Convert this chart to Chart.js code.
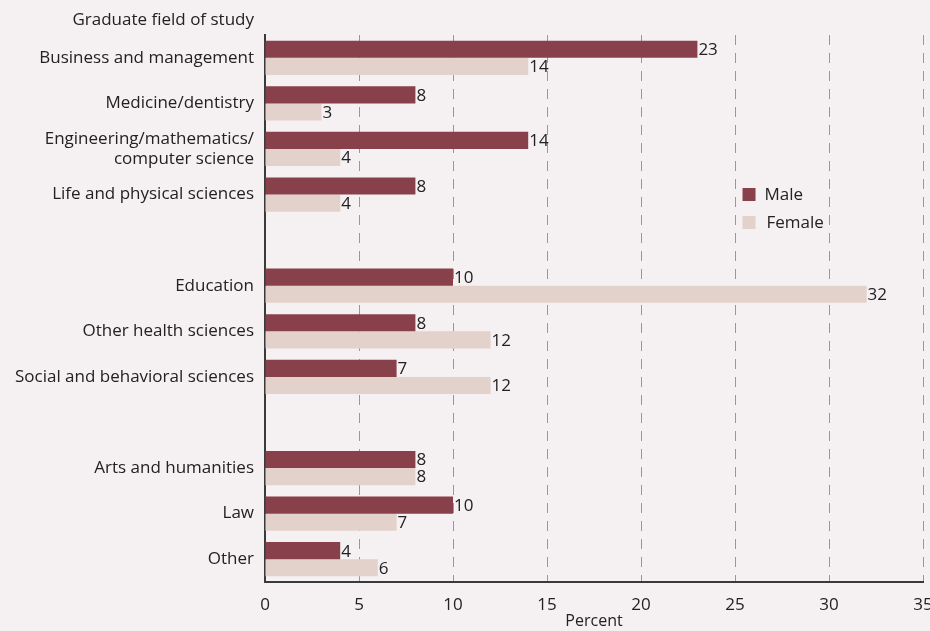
<!DOCTYPE html>
<html>
<head>
<meta charset="utf-8">
<script src="https://cdn.jsdelivr.net/npm/chart.js@4"></script>
<style>
    body { margin: 0; background: #f5f0f1; }
    #wrap { width: 930px; height: 631px; position: relative; }
</style>
</head>
<body>
<div id="wrap"><canvas id="fieldChart"></canvas></div>
<script>
// Поля обучения (пустые строки — промежутки между группами)
const fields = [
    'Business and management',
    'Medicine/dentistry',
    ['Engineering/mathematics/', 'computer science'],
    'Life and physical sciences',
    '',
    'Education',
    'Other health sciences',
    'Social and behavioral sciences',
    '',
    'Arts and humanities',
    'Law',
    'Other'
];
const maleValues = [23, 8, 14, 8, null, 10, 8, 7, null, 8, 10, 4];
const femaleValues = [14, 3, 4, 4, null, 32, 12, 12, null, 8, 7, 6];
const percentTicks = [0, 5, 10, 15, 20, 25, 30, 35];

const FONT = '"Open Sans", sans-serif';
const TEXT = '#222';

// Подписи значений справа от столбиков
const valueLabels = {
    id: 'valueLabels',
    afterDatasetsDraw(chart) {
        const ctx = chart.ctx;
        ctx.save();
        ctx.font = '17px ' + FONT;
        ctx.fillStyle = TEXT;
        ctx.textBaseline = 'middle';
        ctx.textAlign = 'left';
        chart.data.datasets.forEach((ds, i) => {
            chart.getDatasetMeta(i).data.forEach((bar, j) => {
                if (ds.data[j] == null) return;
                ctx.fillText(ds.data[j], bar.x + 1, bar.y + 1);
            });
        });
        ctx.restore();
    }
};

// Заголовок оси категорий и легенда внутри графика
const extras = {
    id: 'extras',
    afterDraw(chart) {
        const ctx = chart.ctx;
        const yScale = chart.scales.y;
        const xScale = chart.scales.x;
        ctx.save();
        ctx.font = '17px ' + FONT;
        ctx.fillStyle = TEXT;
        ctx.textAlign = 'right';
        ctx.textBaseline = 'middle';
        ctx.fillText('Graduate field of study', yScale.right - 11, 20);

        // легенда
        const lx = xScale.getPixelForValue(25.4);
        const ly = chart.chartArea.top + 153;
        ctx.textAlign = 'left';
        chart.data.datasets.forEach((ds, i) => {
            const y = ly + i * 28;
            ctx.fillStyle = ds.backgroundColor;
            ctx.fillRect(lx, y, 13, 13);
            ctx.fillStyle = TEXT;
            ctx.fillText(ds.label, lx + 22 + i * 2, y + 7);
        });
        ctx.restore();
    }
};

new Chart(document.getElementById('fieldChart'), {
    type: 'bar',
    data: {
        labels: fields,
        datasets: [
            { label: 'Male', data: maleValues, backgroundColor: '#88404a' },
            { label: 'Female', data: femaleValues, backgroundColor: '#e3d2cb' }
        ]
    },
    options: {
        indexAxis: 'y',
        responsive: true,
        maintainAspectRatio: false,
        animation: false,
        barPercentage: 1,
        categoryPercentage: 0.75,
        layout: { padding: { top: 35, right: 0, left: 0, bottom: 0 } },
        plugins: {
            legend: { display: false },
            tooltip: { enabled: false }
        },
        scales: {
            x: {
                min: 0,
                max: 35,
                afterBuildTicks(scale) {
                    scale.ticks = percentTicks.map(v => ({ value: v }));
                },
                afterFit(scale) {
                    scale.height = 49;
                    scale.paddingRight = 7;
                },
                grid: {
                    color: ctx => ctx.tick && ctx.tick.value === 0 ? 'rgba(0,0,0,0)' : '#8e99ab',
                    lineWidth: 1,
                    drawTicks: false
                },
                border: { display: true, color: '#3a3a3a', width: 2, dash: [10, 8] },
                ticks: {
                    color: TEXT,
                    padding: 13,
                    font: { family: FONT, size: 17 }
                },
                title: {
                    display: true,
                    text: 'Percent',
                    color: TEXT,
                    padding: { top: 0, bottom: 0 },
                    font: { family: FONT, size: 16 }
                }
            },
            y: {
                afterFit(scale) { scale.width = 265; },
                grid: { display: false, drawTicks: false },
                border: { display: true, color: '#3a3a3a', width: 2 },
                ticks: {
                    color: TEXT,
                    padding: 11,
                    autoSkip: false,
                    font: { family: FONT, size: 17 }
                }
            }
        }
    },
    plugins: [valueLabels, extras]
});
</script>
</body>
</html>
